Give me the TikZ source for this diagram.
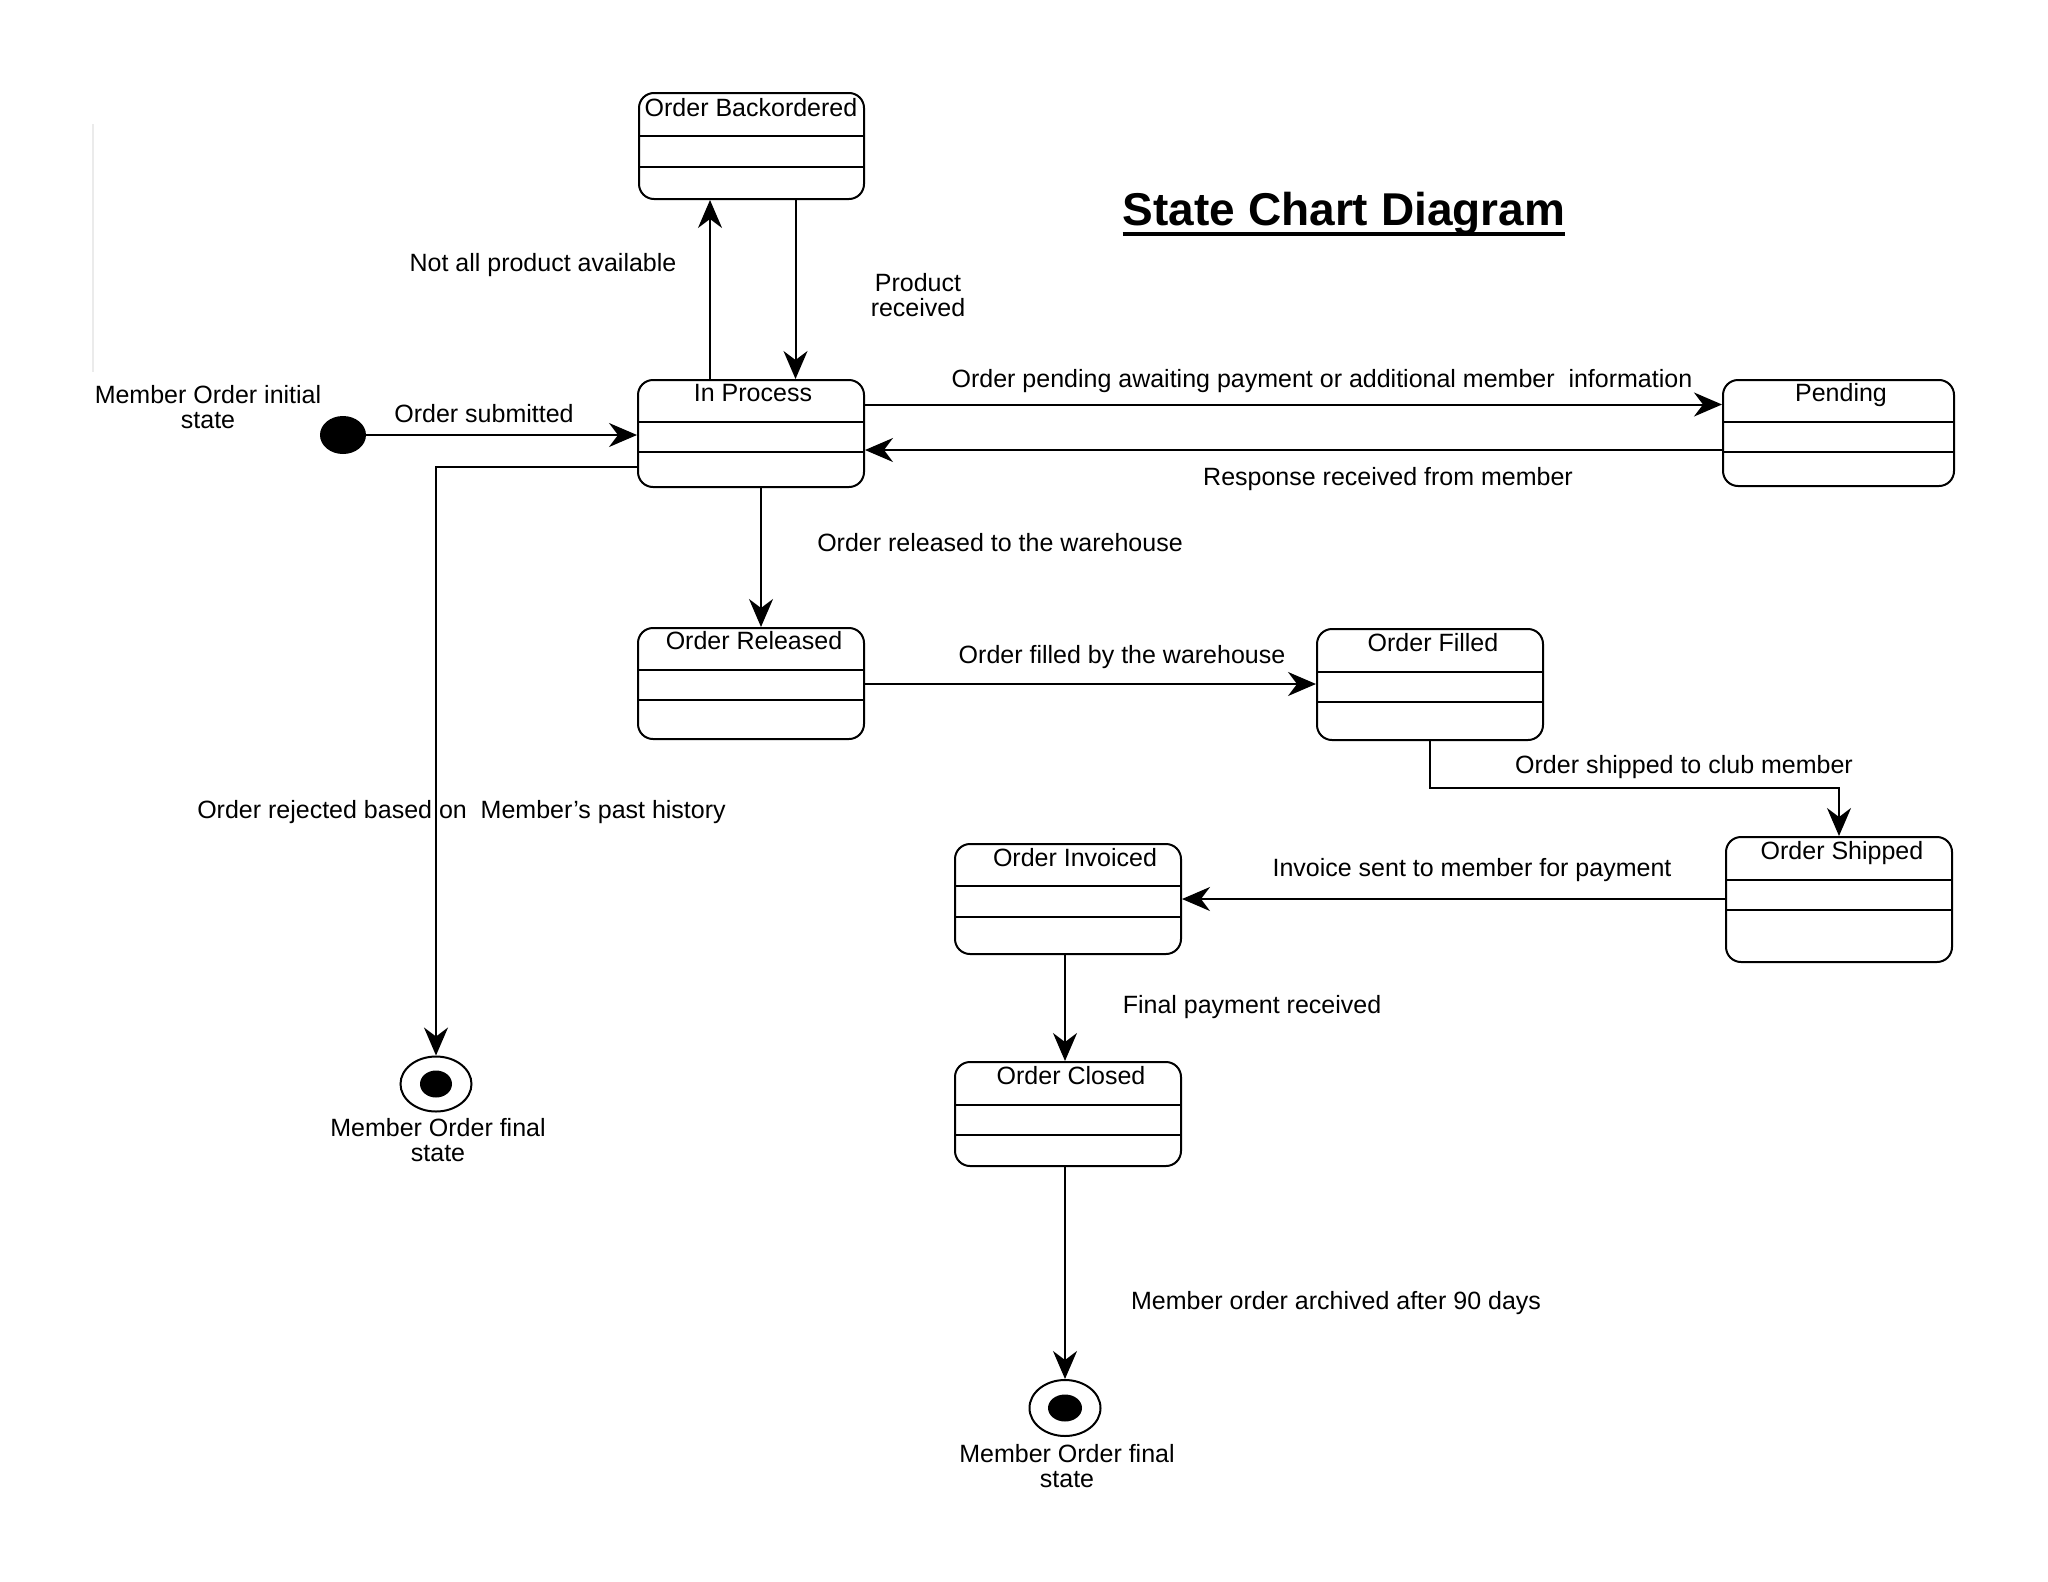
\documentclass[tikz,border=0pt]{standalone}
\usepackage{fontspec}
\setmainfont{Liberation Sans}
\usetikzlibrary{arrows.meta,shapes.geometric}
\newcommand\ustate[9]{%
  \node[sbox, minimum width=#4pt, minimum height=#5pt] (#1) at (#2,#3) {};
  \draw[divline] (#1.west |- 0,#6) -- (#1.east |- 0,#6);
  \draw[divline] (#1.west |- 0,#7) -- (#1.east |- 0,#7);
  \node[lbl] (#1t) at (#8) {#9};
}
\begin{document}
\begin{tikzpicture}[x=1pt,y=-1pt,
  every node/.style={font=\fontsize{25}{24.5}\selectfont, inner sep=0pt},
  lbl/.style={text height=18pt, text depth=0pt, align=center},
  sbox/.style={draw, line width=2pt, rounded corners=15pt, inner sep=0pt},
  divline/.style={line width=2pt},
  tr/.style={line width=2pt, -{Stealth[length=28pt,width=24pt,inset=9pt]}}]
\useasboundingbox (0,0) rectangle (2048,1582);
\fill[white] (0,0) rectangle (2048,1582);

% faint scan artefact
\draw[black!8, line width=1.5pt] (93,124) -- (93,372);

% title
\node[font=\fontsize{46}{50}\selectfont\bfseries, anchor=base] (title) at (1344,225) {State Chart Diagram};
\draw[line width=4pt] ([yshift=-9pt]title.base west) -- ([yshift=-9pt]title.base east);

% states
\ustate{bo}{751.5}{146}{225}{106}{136}{167}{751,107}{Order Backordered}
\ustate{ip}{751}{433.5}{226}{107}{422}{452}{753,392}{In Process}
\ustate{pe}{1838.5}{433}{231}{106}{422}{452}{1841,392}{Pending}
\ustate{re}{751}{683.5}{226}{111}{670}{700}{754,640}{Order Released}
\ustate{fi}{1430}{684.5}{226}{111}{672}{702}{1433,642}{Order Filled}
\ustate{sh}{1839}{899.5}{226}{125}{880}{910}{1842,850}{Order Shipped}
\ustate{in}{1068}{899}{226}{110}{886}{917}{1075,857}{Order Invoiced}
\ustate{cl}{1068}{1114}{226}{104}{1105}{1135}{1071,1075}{Order Closed}

% pseudo states
\node[fill, ellipse, minimum width=46pt, minimum height=38pt] (init) at (343,435) {};
\node[draw, line width=2pt, ellipse, minimum width=71pt, minimum height=55pt] (fin1) at (436,1084) {};
\node[fill, ellipse, minimum width=32pt, minimum height=27pt] (fin1d) at (fin1.center) {};
\node[draw, line width=2pt, ellipse, minimum width=71pt, minimum height=56pt] (fin2) at (1065,1408) {};
\node[fill, ellipse, minimum width=34pt, minimum height=27pt] (fin2d) at (fin2.center) {};

% helper coordinates
\coordinate (xa) at (710,0);
\coordinate (xb) at (795.5,0);
\coordinate (xc) at (761,0);
\coordinate (xg) at (1065,0);
\coordinate (ya) at (0,404.5);
\coordinate (yb) at (0,450);
\coordinate (yc) at (0,467);
\coordinate (yd) at (0,684);
\coordinate (ye) at (0,788);
\coordinate (yf) at (0,899);

% transitions
\draw[tr] (init) -- (init -| ip.west);
\draw[tr] (ip.north -| xa) -- (bo.south -| xa);
\draw[tr] (bo.south -| xb) -- (ip.north -| xb);
\draw[tr] (ip.east |- ya) -- (pe.west |- ya);
\draw[tr] (pe.west |- yb) -- (ip.east |- yb);
\draw[tr] (ip.south -| xc) -- (re.north -| xc);
\draw[tr] (ip.west |- yc) -| (fin1.north);
\draw[tr] (re.east |- yd) -- (fi.west |- yd);
\draw[tr] (fi.south) -- (fi.south |- ye) -| (sh.north);
\draw[tr] (sh.west |- yf) -- (in.east |- yf);
\draw[tr] (in.south -| xg) -- (cl.north -| xg);
\draw[tr] (cl.south -| xg) -- (fin2.north);

% labels (two-line labels are placed by their last line)
\node[lbl] (l1) at (208,419) {Member Order initial\\state};
\node[lbl] (l2) at (484,413) {Order submitted};
\node[lbl] (l3) at (543,262) {Not all product available};
\node[lbl] (l4) at (918,307) {Product\\received};
\node[lbl] (l5) at (1322,378) {Order pending awaiting payment or additional member \ information};
\node[lbl] (l6) at (1388,476) {Response received from member};
\node[lbl] (l7) at (1000,542) {Order released to the warehouse};
\node[lbl] (l8) at (1122,654) {Order filled by the warehouse};
\node[lbl] (l9) at (1684,764) {Order shipped to club member};
\node[lbl] (l10) at (1472,867) {Invoice sent to member for payment};
\node[lbl] (l11) at (1252,1004) {Final payment received};
\node[lbl] (l12) at (461.5,809) {Order rejected based on \ Member's past history};
\node[lbl] (l13) at (438,1152) {Member Order final\\state};
\node[lbl] (l14) at (1336,1300) {Member order archived after 90 days};
\node[lbl] (l15) at (1067,1478) {Member Order final\\state};
\end{tikzpicture}
\end{document}
